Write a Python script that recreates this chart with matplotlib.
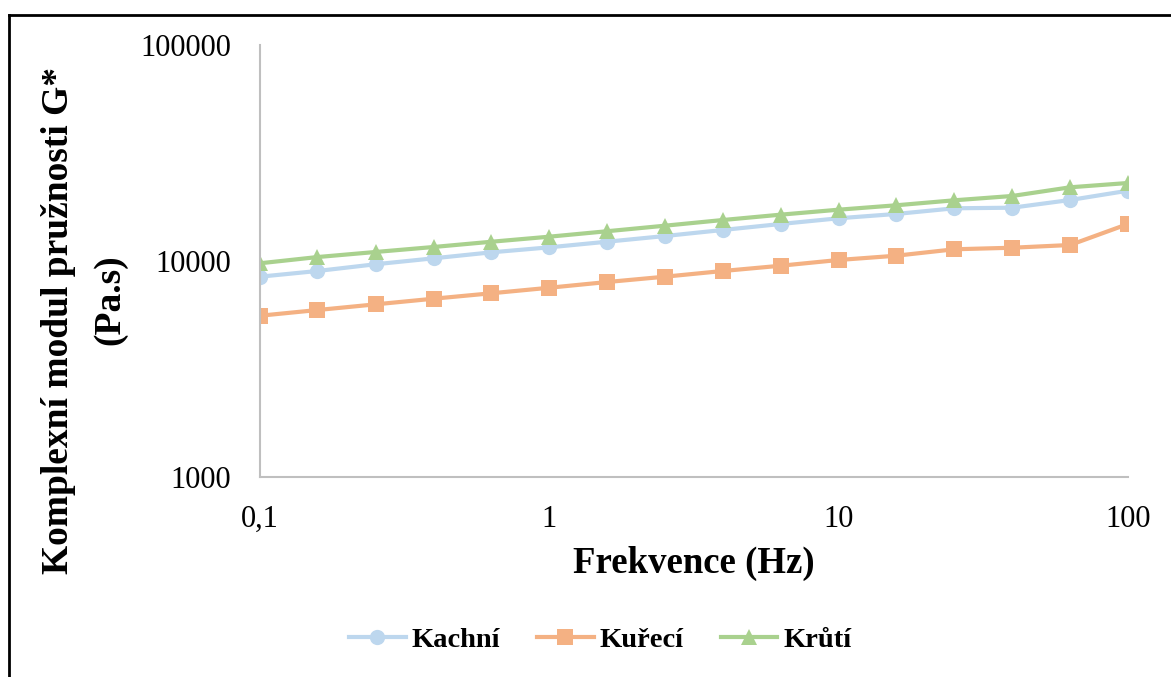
import matplotlib.pyplot as plt
from matplotlib.lines import Line2D
from matplotlib.ticker import FixedLocator, FixedFormatter, NullLocator

# frequency sweep, 5 points per decade
freq = [0.1, 0.158, 0.251, 0.398, 0.631, 1.0, 1.58, 2.51,
        3.98, 6.31, 10.0, 15.8, 25.1, 39.8, 63.1, 100.0]

kachni = [8460, 8990, 9660, 10290, 10970, 11570, 12280, 13050,
          13920, 14840, 15770, 16510, 17540, 17650, 19160, 21160]
kureci = [5580, 5930, 6300, 6690, 7090, 7520, 7990, 8460,
          8990, 9510, 10110, 10580, 11330, 11520, 11860, 14840]
kruti = [9760, 10430, 11010, 11610, 12280, 12960, 13730, 14570,
         15480, 16390, 17280, 18110, 19100, 20000, 21940, 22970]

series_names = ["Kachní", "Kuřecí", "Krůtí"]
x_ticks = [0.1, 1, 10, 100]
x_tick_labels = ["0,1", "1", "10", "100"]
y_ticks = [1000, 10000, 100000]
y_tick_labels = ["1000", "10000", "100000"]

plt.rcParams["font.family"] = ["Liberation Serif", "DejaVu Serif"]

W, H = 1171, 677
fig = plt.figure(figsize=(W / 100, H / 100), dpi=100)
ax = fig.add_axes([260 / W, 1 - 477 / H, (1128 - 260) / W, (477 - 45) / H])

colors = ["#BDD7EE", "#F4B183", "#A9D18E"]
markers = ["o", "s", "^"]
msizes = [11, 11, 12]
for vals, name, c, m, ms in zip([kachni, kureci, kruti], series_names, colors, markers, msizes):
    ax.plot(freq, vals, color=c, lw=3, marker=m, markersize=ms,
            markeredgewidth=0, label=name)

ax.set_xscale("log")
ax.set_yscale("log")
ax.set_xlim(0.1, 100)
ax.set_ylim(1000, 100000)

ax.xaxis.set_major_locator(FixedLocator(x_ticks))
ax.xaxis.set_major_formatter(FixedFormatter(x_tick_labels))
ax.xaxis.set_minor_locator(NullLocator())
ax.yaxis.set_major_locator(FixedLocator(y_ticks))
ax.yaxis.set_major_formatter(FixedFormatter(y_tick_labels))
ax.yaxis.set_minor_locator(NullLocator())
ax.tick_params(length=0, labelsize=22, colors="black")
ax.tick_params(axis="x", pad=20)
ax.tick_params(axis="y", pad=21)

for s in ["top", "right"]:
    ax.spines[s].set_visible(False)
for s in ["left", "bottom"]:
    ax.spines[s].set_color("#BFBFBF")
    ax.spines[s].set_linewidth(1.5)

ax.set_xlabel("Frekvence (Hz)", fontsize=26.5, fontweight="bold", labelpad=9)

# y title: two lines, placed separately as in the original
fig.text(59 / W, 1 - 321 / H, "Komplexní modul pružnosti G*", rotation=90,
         ha="center", va="center", fontsize=27, fontweight="bold")
fig.text(110 / W, 1 - 300 / H, "(Pa.s)", rotation=90,
         ha="center", va="center", fontsize=27, fontweight="bold")

leg = fig.legend(loc="center", bbox_to_anchor=(600 / W, 1 - 640 / H), ncol=3,
                 frameon=False, prop={"size": 20.5, "weight": "bold"},
                 handlelength=2.0, columnspacing=1.3, handletextpad=0.2)

# outer frame of the original chart object (cropped)
fig.add_artist(Line2D([8.5 / W, 8.5 / W], [0, 1 - 15 / H], color="black", lw=2,
                      transform=fig.transFigure))
fig.add_artist(Line2D([8.5 / W, 1], [1 - 15 / H, 1 - 15 / H], color="black", lw=2,
                      transform=fig.transFigure))

fig.savefig("out.png", dpi=100)
